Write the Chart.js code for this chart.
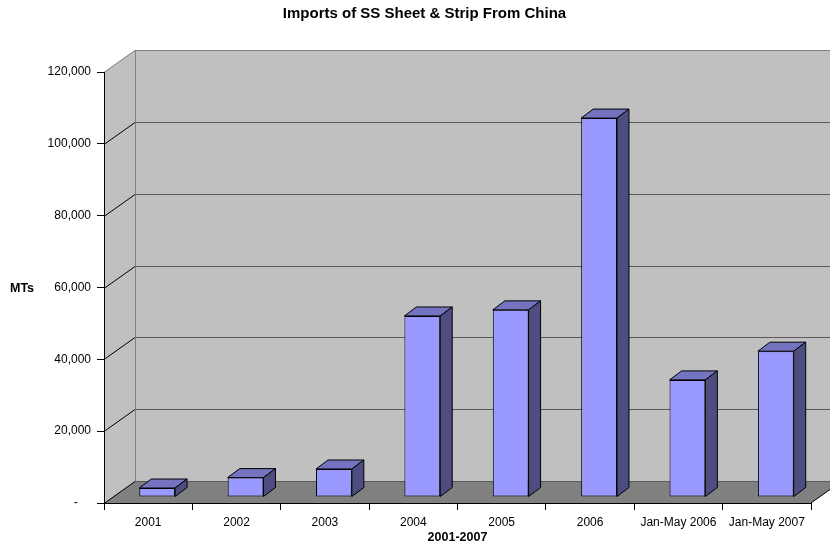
<!DOCTYPE html>
<html>
<head>
<meta charset="utf-8">
<script src="https://cdn.jsdelivr.net/npm/chart.js@4.4.1/dist/chart.umd.min.js"></script>
<style>
  html, body { margin: 0; padding: 0; background: #fff; }
</style>
</head>
<body>
<canvas id="chart" width="830" height="546"></canvas>
<script>
// data
const categories = ['2001', '2002', '2003', '2004', '2005', '2006', 'Jan-May 2006', 'Jan-May 2007'];
const importsMT = [2500, 5400, 7800, 50400, 52100, 105500, 32600, 40600];
const yTicks = [0, 20000, 40000, 60000, 80000, 100000, 120000];

const FONT = "'Liberation Sans', Arial, sans-serif";

// 3D look (Excel style): wall depth, bar offset into depth, bar depth
const DEPTH = { x: 31, y: -22 };
const BAR_SHIFT = { x: 9, y: -6 };
const BAR_DEPTH = { x: 12, y: -9 };

function poly(ctx, pts, fill, stroke) {
  ctx.beginPath();
  ctx.moveTo(pts[0][0], pts[0][1]);
  for (let i = 1; i < pts.length; i++) ctx.lineTo(pts[i][0], pts[i][1]);
  ctx.closePath();
  if (fill) { ctx.fillStyle = fill; ctx.fill(); }
  if (stroke) { ctx.strokeStyle = stroke; ctx.lineWidth = 1; ctx.stroke(); }
}

function line(ctx, x1, y1, x2, y2, color) {
  ctx.beginPath();
  ctx.moveTo(x1, y1);
  ctx.lineTo(x2, y2);
  ctx.strokeStyle = color;
  ctx.lineWidth = 1;
  ctx.stroke();
}

const threeD = {
  id: 'threeD',
  beforeDraw(chart) {
    const { ctx, chartArea: a, scales: { y } } = chart;
    const L = a.left, R = a.right, T = a.top, B = a.bottom;
    ctx.save();
    ctx.fillStyle = '#fff';
    ctx.fillRect(0, 0, chart.width, chart.height);

    // back wall + side wall
    ctx.fillStyle = '#c0c0c0';
    ctx.fillRect(L + DEPTH.x, T + DEPTH.y, R - L, B - T);
    poly(ctx, [[L, T], [L + DEPTH.x, T + DEPTH.y], [L + DEPTH.x, B + DEPTH.y], [L, B]], '#c0c0c0');
    // floor
    poly(ctx, [[L, B], [R, B], [R + DEPTH.x, B + DEPTH.y], [L + DEPTH.x, B + DEPTH.y]], '#808080');

    // gridlines on back wall and side wall
    yTicks.forEach((v, i) => {
      const py = Math.round(y.getPixelForValue(v)) + 0.5;
      const top = i === yTicks.length - 1;
      line(ctx, L + DEPTH.x, py + DEPTH.y, R + DEPTH.x + 2, py + DEPTH.y, top ? '#808080' : '#5a5a5a');
      line(ctx, L, py, L + DEPTH.x, py + DEPTH.y, top ? '#808080' : '#000');
    });
    line(ctx, L + DEPTH.x + 0.5, T + DEPTH.y, L + DEPTH.x + 0.5, B + DEPTH.y, '#808080');
    line(ctx, R, B, R + DEPTH.x, B + DEPTH.y, '#000');
    ctx.restore();
  },
  beforeDatasetsDraw(chart) {
    chart.ctx.save();
    chart.ctx.translate(BAR_SHIFT.x, BAR_SHIFT.y);
  },
  afterDatasetsDraw(chart) {
    const ctx = chart.ctx;
    const meta = chart.getDatasetMeta(0);
    meta.data.forEach(el => {
      const { x, y, base, width } = el.getProps(['x', 'y', 'base', 'width'], true);
      const x0 = x - width / 2, x1 = x + width / 2;
      const dx = BAR_DEPTH.x, dy = BAR_DEPTH.y;
      // top face
      poly(ctx, [[x0, y], [x1, y], [x1 + dx, y + dy], [x0 + dx, y + dy]], '#7373c0', '#000');
      // side face
      poly(ctx, [[x1, y], [x1 + dx, y + dy], [x1 + dx, base + dy], [x1, base]], '#4d4d80', '#000');
    });
    ctx.restore();
  },
  afterDraw(chart) {
    const { ctx } = chart;
    ctx.save();
    ctx.fillStyle = '#000';
    ctx.font = 'bold 12.5px ' + FONT;
    ctx.textAlign = 'center';
    ctx.textBaseline = 'middle';
    ctx.fillText('MTs', 22, 289);
    ctx.restore();
  }
};

new Chart(document.getElementById('chart'), {
  type: 'bar',
  data: {
    labels: categories,
    datasets: [{
      label: 'Imports (MTs)',
      data: importsMT,
      backgroundColor: '#9999ff',
      borderColor: '#000',
      borderWidth: 1,
      borderSkipped: false,
      barPercentage: 1,
      categoryPercentage: 0.405,
      clip: false
    }]
  },
  options: {
    responsive: false,
    animation: false,
    layout: { padding: { left: 38, right: 19, top: 0, bottom: 0 } },
    plugins: {
      legend: { display: false },
      tooltip: { enabled: false },
      title: {
        display: true,
        text: 'Imports of SS Sheet & Strip From China',
        color: '#000',
        font: { family: FONT, size: 15, weight: 'bold' },
        padding: { top: 4.5, bottom: 49.5 }
      }
    },
    scales: {
      x: {
        grid: { display: true, offset: true, drawOnChartArea: false, drawTicks: true, tickLength: 7, color: '#000' },
        border: { display: true, color: '#000' },
        ticks: { color: '#000', font: { family: FONT, size: 12 }, padding: 5, autoSkip: false, maxRotation: 0 },
        title: {
          display: true,
          text: '2001-2007',
          color: '#000',
          font: { family: FONT, size: 12.5, weight: 'bold' },
          padding: { top: 0, bottom: 1 }
        },
        afterFit(scale) { scale.height = 43; }
      },
      y: {
        min: 0,
        max: 120000,
        grid: { display: true, drawOnChartArea: false, drawTicks: true, tickLength: 7, color: '#000' },
        border: { display: true, color: '#000' },
        ticks: {
          stepSize: 20000,
          color: '#000',
          padding: 6,
          font: { family: FONT, size: 12 },
          callback: v => v === 0 ? '-    ' : v.toLocaleString('en-US')
        },
        afterFit(scale) { scale.width = 66; }
      }
    }
  },
  plugins: [threeD]
});
</script>
</body>
</html>
